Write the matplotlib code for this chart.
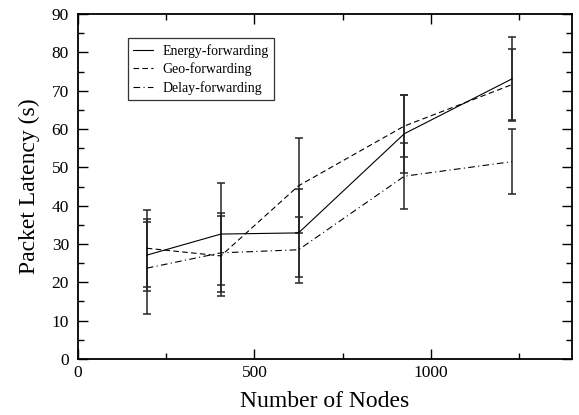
import numpy as np
import matplotlib
matplotlib.use('Agg')
import matplotlib.pyplot as plt
from matplotlib.ticker import MultipleLocator

plt.rcParams['font.family'] = ['Liberation Serif', 'DejaVu Serif']

nodes = [195, 405, 625, 925, 1230]

energy = [27.1, 32.6, 32.9, 58.8, 73.1]
energy_err = [9.4, 13.3, 11.4, 10.2, 11.0]

geo = [28.9, 26.9, 45.2, 60.8, 71.6]
geo_err = [10.0, 10.5, 12.4, 8.0, 9.2]

delay = [23.7, 27.7, 28.5, 47.7, 51.5]
delay_err = [12.0, 10.3, 8.6, 8.6, 8.4]

fig = plt.figure(figsize=(5.79, 4.15), dpi=100)
ax = fig.add_axes([0.1347, 0.135, 0.8532, 0.831])

series = [
    ('Energy-forwarding', energy, energy_err, '-'),
    ('Geo-forwarding', geo, geo_err, (0, (5, 3))),
    ('Delay-forwarding', delay, delay_err, (0, (6, 3, 1, 3))),
]
for name, vals, errs, ls in series:
    ax.errorbar(nodes, vals, yerr=errs, color='k', ls=ls, lw=0.8,
                elinewidth=1.1, ecolor='0.15', capsize=3.2, capthick=1.1,
                label=name)

ax.set_xlim(0, 1400)
ax.set_ylim(0, 90)
ax.xaxis.set_major_locator(MultipleLocator(500))
ax.xaxis.set_minor_locator(MultipleLocator(250))
ax.yaxis.set_major_locator(MultipleLocator(10))
ax.yaxis.set_minor_locator(MultipleLocator(5))
ax.tick_params(which='both', direction='in', top=True, right=True,
               labelsize=12.5, width=1.0)
ax.tick_params(which='major', length=7.5)
ax.tick_params(which='minor', length=4)
ax.tick_params(axis='y', pad=6.5)
ax.tick_params(axis='x', pad=4.5)
for sp in ax.spines.values():
    sp.set_linewidth(1.3)

ax.set_xlabel('Number of Nodes', fontsize=17, labelpad=7)
ax.set_ylabel('Packet Latency (s)', fontsize=17, labelpad=8)

handles, labels = ax.get_legend_handles_labels()
handles = [h[0] for h in handles]
leg = ax.legend(handles, labels, loc='upper left', bbox_to_anchor=(0.1006, 0.9296),
                borderaxespad=0, fontsize=10, frameon=True, fancybox=False,
                handlelength=1.4, borderpad=0.4, labelspacing=0.34,
                handletextpad=0.7)
leg.get_frame().set_edgecolor('k')
leg.get_frame().set_linewidth(0.9)

fig.savefig('out.png', dpi=100)
